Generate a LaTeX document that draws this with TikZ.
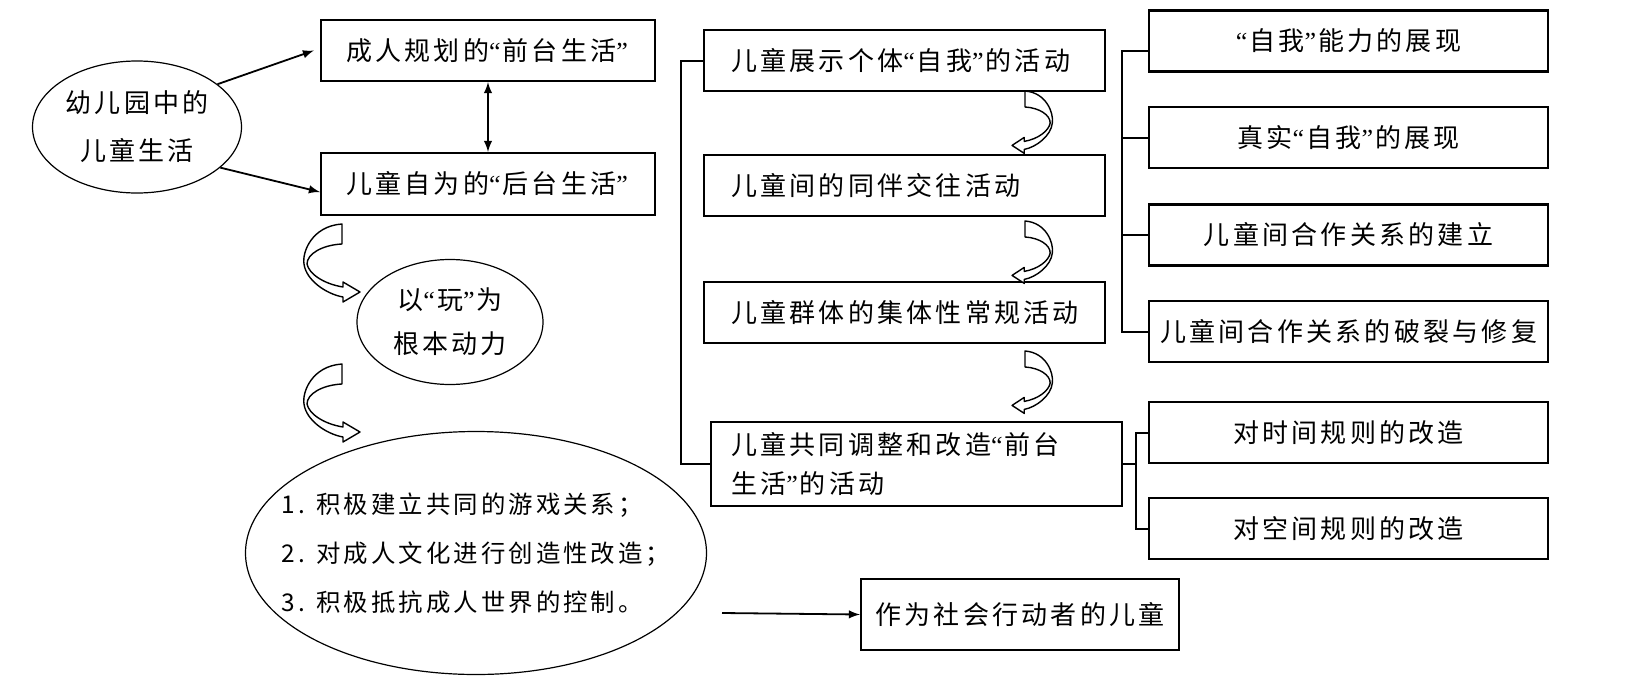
\documentclass[tikz,border=0pt]{standalone}
\usepackage{fontspec}
\newfontfamily\cjk[LetterSpace=12.5]{Noto Sans CJK SC}
\newfontfamily\qfont{Liberation Serif}
\newcommand\oq{{\qfont“}\kern1pt}
\newcommand\cq{{\qfont”}\kern1pt}
\usetikzlibrary{shapes.geometric}

\tikzset{
  txt/.style={font=\cjk\fontsize{13pt}{24pt}\selectfont},
  plainbox/.style={txt, draw, line width=1.1pt, inner sep=0pt},
  oval/.style={txt, draw, ellipse, line width=0.6pt, inner sep=0pt, align=center},
  actbox/.style={plainbox, text width=173.5pt, inner xsep=13.5pt, align=left, minimum height=30.5pt},
  subbox/.style={plainbox, minimum width=199.5pt, minimum height=30.5pt},
  flow/.style={line width=0.9pt, -latex},
  joint/.style={line width=1pt},
  bendarrow/.style={line width=0.7pt, line join=round, fill=white}
}

\begin{document}
\begin{tikzpicture}[x=0.5pt, y=-0.5pt]
    \useasboundingbox (0,0) rectangle (1640,686);
    % left column
    \node[oval, minimum width=104.5pt, minimum height=66pt] (life) at (137,127) {幼儿园中的\\儿童生活};
    \node[plainbox, minimum width=167pt, minimum height=30.5pt] (front) at (488,50.5) {成人规划的\oq 前台生活\cq};
    \node[plainbox, minimum width=167pt, minimum height=31pt] (back) at (488,184) {儿童自为的\oq 后台生活\cq};
    \node[oval, minimum width=93pt, minimum height=62.5pt] (play) at (450,322) {以\oq 玩\cq 为\\[-2pt]根本动力};
    \node[oval, minimum width=230.5pt, minimum height=121.5pt] (ways) at (476,553) {};
    \node[txt, font=\cjk\fontsize{12.2pt}{24.5pt}\selectfont, align=left] (waylist) at (ways) {1. 积极建立共同的游戏关系；\\2. 对成人文化进行创造性改造；\\3. 积极抵抗成人世界的控制。};
    \draw[flow] (life.28) -- ([xshift=-3pt]front.west);
    \draw[flow] (life.-26) -- ([yshift=-4pt]back.west);
    \draw[flow, latex-latex] (front.south) -- (back.north);

    % activities
    \node[actbox] (self) at (904.5,60.5) {儿童展示个体\oq 自我\cq 的活动};
    \node[actbox] (peer) at (904.5,185.5) {儿童间的同伴交往活动};
    \node[actbox] (group) at (904.5,312.5) {儿童群体的集体性常规活动};
    \node[actbox, text width=185.5pt, inner xsep=10pt, minimum height=42pt] (remake) at (916.5,464) {儿童共同调整和改造\oq 前台\\[-4.5pt]生活\cq 的活动};
    \coordinate (lb) at (681,0);
    \draw[joint] (self.west) -- (self.west -| lb) -- (remake.west -| lb) -- (remake.west);

    % right column
    \node[subbox] (ability) at (1348.5,41) {\oq 自我\cq 能力的展现};
    \node[subbox] (real) at (1348.5,137.5) {真实\oq 自我\cq 的展现};
    \node[subbox] (coop) at (1348.5,235) {儿童间合作关系的建立};
    \node[subbox] (repair) at (1348.5,331.5) {儿童间合作关系的破裂与修复};
    \node[subbox] (time) at (1348.5,432.5) {对时间规则的改造};
    \node[subbox] (space) at (1348.5,528.5) {对空间规则的改造};
    \coordinate (ub) at (1122,0);
    \draw[joint] ([yshift=-5pt]ability.west) -- ([yshift=-5pt]ability.west -| ub) -- (repair.west -| ub) -- (repair.west);
    \foreach \n in {real, coop} {
        \draw[joint] (\n.west) -- (\n.west -| ub);
    }
    \coordinate (rb) at (1136,0);
    \draw[joint] (time.west) -- (time.west -| rb) -- (space.west -| rb) -- (space.west);
    \draw[joint] (remake.east) -- (remake.east -| rb);

    % result
    \node[plainbox, minimum width=159pt, minimum height=35.5pt] (actor) at (1020,614.5) {作为社会行动者的儿童};
    \coordinate (tail) at (722,613);
    \draw[flow] (tail) -- (actor.west);

    % curved arrows
    \foreach \sx/\sy/\fx/\fy in {342/224/1/1, 342/364/1/1, 1025/91/-0.72/0.8, 1025/221/-0.72/0.8, 1025/351/-0.72/0.8} {
        \begin{scope}[shift={(\sx,\sy)}, xscale=\fx, yscale=\fy]
            \draw[bendarrow] (0,0) .. controls (-30,2) and (-40,28) .. (-38,40) .. controls (-36,56) and (-16,70) .. (1,73) -- (1,78) -- (18,68) -- (1,58) -- (1,63) .. controls (-18,60) and (-33,50) .. (-35,40) .. controls (-35,30) and (-20,21) .. (0,20) -- cycle;
        \end{scope}
    }
\end{tikzpicture}
\end{document}
